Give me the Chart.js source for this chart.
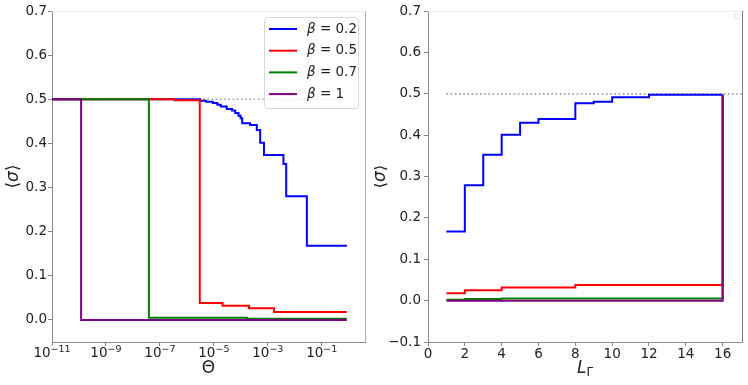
<!DOCTYPE html>
<html>
<head>
<meta charset="utf-8">
<script src="https://cdn.jsdelivr.net/npm/chart.js@4"></script>
<style>
html,body{margin:0;padding:0;background:#fff;}
#wrap{position:relative;width:748px;height:385px;overflow:hidden;}
.panel{position:absolute;top:0;width:374px;height:385px;}
</style>
</head>
<body>
<div id="wrap">
  <div class="panel" style="left:0"><canvas id="c1" width="374" height="385"></canvas></div>
  <div class="panel" style="left:374px"><canvas id="c2" width="374" height="385"></canvas></div>
</div>
<script>
// ---------------- DATA ----------------
const seriesLabels = ['β = 0.2', 'β = 0.5', 'β = 0.7', 'β = 1'];

// Left panel: <sigma> vs Theta (step functions, value holds from x[i] to x[i+1])
const thetaB02 = [1e-11, 3.1e-6, 5.1e-6, 9.1e-6, 1.35e-5, 1.8e-5, 3.0e-5, 4.7e-5, 6.2e-5, 8.2e-5, 9.8e-5, 1.12e-4, 2.2e-4, 3.9e-4, 5.2e-4, 7.2e-4, 3.8e-3, 4.8e-3, 2.8e-2, 0.85];
const sigmaB02 = [0.5, 0.4966, 0.4943, 0.4913, 0.4875, 0.4836, 0.4777, 0.4745, 0.4686, 0.4624, 0.4572, 0.4458, 0.4419, 0.4305, 0.4016, 0.3736, 0.3531, 0.2802, 0.168, 0.168];
const thetaB05 = [1e-11, 3.5e-7, 3.0e-6, 2.1e-5, 2.0e-4, 1.7e-3, 0.85];
const sigmaB05 = [0.5, 0.498, 0.0385, 0.032, 0.0265, 0.018, 0.018];
const thetaB07 = [1e-11, 3.9e-8, 1.7e-4, 0.85];
const sigmaB07 = [0.5, 0.005, 0.0025, 0.0025];
const thetaB1 = [1e-11, 1.2e-10, 0.85];
const sigmaB1 = [0.5, 0, 0];
const thetaRef = [1e-11, 0.85];
const sigmaRefLeft = [0.5, 0.5];

// Right panel: <sigma> vs L_Gamma
const lGamma = [1, 2, 3, 4, 5, 6, 7, 8, 9, 10, 11, 12, 13, 14, 15, 16];
const sigmaLB02 = [0.167, 0.279, 0.353, 0.401, 0.430, 0.439, 0.439, 0.477, 0.481, 0.492, 0.492, 0.4976, 0.4976, 0.4976, 0.4976, 0.4976];
const sigmaLB05 = [0.0178, 0.025, 0.025, 0.0316, 0.0316, 0.0316, 0.0316, 0.038, 0.038, 0.038, 0.038, 0.038, 0.038, 0.038, 0.038, 0.4976];
const sigmaLB07 = [0.002, 0.004, 0.004, 0.005, 0.005, 0.005, 0.005, 0.005, 0.005, 0.005, 0.005, 0.005, 0.005, 0.005, 0.005, 0.4976];
const sigmaLB1  = [0, 0, 0, 0, 0, 0, 0, 0, 0, 0, 0, 0, 0, 0, 0, 0.4976];
const lRef = [1, 17.05];
const sigmaRefRight = [0.5, 0.5];

// Tick labels
const thetaTicks = [1e-11, 1e-9, 1e-7, 1e-5, 1e-3, 1e-1];
const sigmaTicksLeft = [0, 0.1, 0.2, 0.3, 0.4, 0.5, 0.6, 0.7];
const sigmaTicksRight = [-0.1, 0, 0.1, 0.2, 0.3, 0.4, 0.5, 0.6, 0.7];
const lTicks = [0, 2, 4, 6, 8, 10, 12, 14, 16];

// ---------------- STYLE ----------------
const FONT = 'DejaVu Sans';
const COLORS = ['#0000ff', '#ff0000', '#008000', '#800080'];
const TICK_COLOR = '#222';
const AXIS_COLOR = '#8a8a8a';

const pts = (xs, ys) => xs.map((x, i) => ({x: x, y: ys[i]}));

function stepSet(label, xs, ys, idx) {
  return {
    label: label, data: pts(xs, ys), borderColor: COLORS[idx], backgroundColor: COLORS[idx],
    borderWidth: 2, pointRadius: 0, stepped: 'before', fill: false, tension: 0,
    order: 4 - idx, legendEntry: true
  };
}
function refSet(xs, ys) {
  return {
    label: 'ref', data: pts(xs, ys), borderColor: '#a0a0a0', borderWidth: 1.6,
    borderDash: [1.6, 2.6], pointRadius: 0, fill: false, order: 10, legendEntry: false
  };
}

function powParts(v) {
  const e = Math.round(Math.log10(v));
  return {base: '10', exp: (e < 0 ? '−' : '') + String(Math.abs(e))};
}
function fmtDec(v) {
  const s = Math.abs(v).toFixed(1);
  return (v < -1e-9 ? '−' : '') + s;
}

// ---------------- PLUGINS ----------------
function roundRect(ctx, x, y, w, h, r) {
  ctx.beginPath();
  ctx.moveTo(x + r, y);
  ctx.lineTo(x + w - r, y); ctx.quadraticCurveTo(x + w, y, x + w, y + r);
  ctx.lineTo(x + w, y + h - r); ctx.quadraticCurveTo(x + w, y + h, x + w - r, y + h);
  ctx.lineTo(x + r, y + h); ctx.quadraticCurveTo(x, y + h, x, y + h - r);
  ctx.lineTo(x, y + r); ctx.quadraticCurveTo(x, y, x + r, y);
  ctx.closePath();
}

const spines = {
  id: 'spines',
  afterDatasetsDraw(chart, args, o) {
    const ctx = chart.ctx, a = chart.chartArea;
    ctx.save();
    ctx.lineWidth = 1;
    ctx.strokeStyle = o.topColor;
    ctx.beginPath(); ctx.moveTo(a.left, Math.round(a.top) + 0.5); ctx.lineTo(a.right, Math.round(a.top) + 0.5); ctx.stroke();
    ctx.strokeStyle = o.rightColor;
    ctx.beginPath(); ctx.moveTo(Math.round(a.right) + 0.5, a.top); ctx.lineTo(Math.round(a.right) + 0.5, a.bottom); ctx.stroke();
    ctx.restore();
  }
};

// draws "10" with a raised exponent under each tick of a log x axis
const powTicks = {
  id: 'powTicks',
  afterDraw(chart, args, o) {
    if (!o.show) return;
    const ctx = chart.ctx, sc = chart.scales.x;
    ctx.save();
    ctx.fillStyle = TICK_COLOR;
    ctx.textBaseline = 'alphabetic';
    sc.ticks.forEach(t => {
      const p = powParts(t.value);
      const px = sc.getPixelForValue(t.value);
      ctx.font = o.size + 'px "' + FONT + '"';
      const wb = ctx.measureText(p.base).width;
      ctx.font = o.supSize + 'px "' + FONT + '"';
      const we = ctx.measureText(p.exp).width;
      const x0 = px - (wb + we) / 2;
      ctx.font = o.size + 'px "' + FONT + '"';
      ctx.fillText(p.base, x0, o.baseline);
      ctx.font = o.supSize + 'px "' + FONT + '"';
      ctx.fillText(p.exp, x0 + wb, o.baseline - o.raise);
    });
    ctx.restore();
  }
};

const boxLegend = {
  id: 'boxLegend',
  afterDraw(chart, args, o) {
    if (!o.show) return;
    const ctx = chart.ctx;
    ctx.save();
    roundRect(ctx, o.x + 0.5, o.y + 0.5, o.w, o.h, o.r);
    ctx.fillStyle = 'rgba(255,255,255,0.8)';
    ctx.fill();
    ctx.strokeStyle = '#d8d8d8';
    ctx.lineWidth = 1;
    ctx.stroke();
    const sets = chart.data.datasets.filter(d => d.legendEntry);
    sets.forEach((d, i) => {
      const y = o.firstY + i * o.rowH;
      ctx.strokeStyle = d.borderColor;
      ctx.lineWidth = 2;
      ctx.beginPath(); ctx.moveTo(o.lineX0, y); ctx.lineTo(o.lineX1, y); ctx.stroke();
      ctx.fillStyle = TICK_COLOR;
      ctx.textBaseline = 'middle';
      const first = d.label.charAt(0), rest = d.label.slice(1);
      ctx.font = 'italic ' + o.size + 'px "' + FONT + '"';
      ctx.fillText(first, o.textX, y);
      const w = ctx.measureText(first).width;
      ctx.font = 'normal ' + o.size + 'px "' + FONT + '"';
      ctx.fillText(rest, o.textX + w, y);
    });
    ctx.restore();
  }
};

const richTitles = {
  id: 'richTitles',
  afterDraw(chart, args, o) {
    const ctx = chart.ctx, a = chart.chartArea;
    (o.items || []).forEach(it => {
      ctx.save();
      const cx = (it.x !== undefined && it.x !== null) ? it.x : (a.left + a.right) / 2;
      const cy = (it.y !== undefined && it.y !== null) ? it.y : (a.top + a.bottom) / 2;
      ctx.translate(cx, cy);
      if (it.rotate) ctx.rotate(it.rotate);
      const runs = it.runs;
      const widths = [];
      let total = 0;
      for (let i = 0; i < runs.length; i++) {
        const r = runs[i];
        ctx.font = (r.style || 'normal') + ' ' + r.size + 'px "' + FONT + '"';
        const w = ctx.measureText(r.text).width;
        widths.push(w); total += w;
      }
      let x = -total / 2;
      ctx.textBaseline = 'middle';
      ctx.fillStyle = TICK_COLOR;
      for (let i = 0; i < runs.length; i++) {
        const r = runs[i];
        ctx.font = (r.style || 'normal') + ' ' + r.size + 'px "' + FONT + '"';
        ctx.fillText(r.text, x, r.dy || 0);
        x += widths[i];
      }
      ctx.restore();
    });
  }
};

function axisCommon() {
  return {
    grid: {drawOnChartArea: false, drawTicks: true, tickLength: 4, color: AXIS_COLOR, lineWidth: 1},
    border: {display: true, color: AXIS_COLOR, width: 1}
  };
}

// ---------------- LEFT CHART ----------------
new Chart(document.getElementById('c1'), {
  type: 'line',
  data: {
    datasets: [
      stepSet(seriesLabels[0], thetaB02, sigmaB02, 0),
      stepSet(seriesLabels[1], thetaB05, sigmaB05, 1),
      stepSet(seriesLabels[2], thetaB07, sigmaB07, 2),
      stepSet(seriesLabels[3], thetaB1, sigmaB1, 3),
      refSet(thetaRef, sigmaRefLeft)
    ]
  },
  options: {
    responsive: false, animation: false, devicePixelRatio: 1,
    layout: {padding: {top: 11, right: 9, left: 0, bottom: 0}},
    plugins: {
      legend: {display: false}, tooltip: {enabled: false},
      spines: {topColor: '#eeeeee', rightColor: '#b0b0b0'},
      powTicks: {show: true, size: 13.5, supSize: 9.5, baseline: 357, raise: 5.5},
      boxLegend: {show: true, x: 264, y: 17, w: 94, h: 91, r: 3, firstY: 29, rowH: 21.7, lineX0: 269, lineX1: 297, textX: 307, size: 13.5},
      richTitles: {items: [
        {x: 14, rotate: -Math.PI / 2, runs: [{text: '⟨', size: 17}, {text: 'σ', size: 17, style: 'italic'}, {text: '⟩', size: 17}]},
        {y: 369, runs: [{text: 'Θ', size: 17}]}
      ]}
    },
    scales: {
      x: Object.assign(axisCommon(), {
        type: 'logarithmic', min: 1e-11, max: 4.0,
        afterBuildTicks: s => { s.ticks = thetaTicks.map(v => ({value: v})); },
        afterFit: s => { s.height = 43; },
        ticks: {display: false, autoSkip: false},
        title: {display: false}
      }),
      y: Object.assign(axisCommon(), {
        type: 'linear', min: -0.05, max: 0.7,
        afterBuildTicks: s => { s.ticks = sigmaTicksLeft.map(v => ({value: v})); },
        afterFit: s => { s.width = 52; },
        ticks: {callback: v => fmtDec(v), font: {family: FONT, size: 13.5}, color: TICK_COLOR, padding: 1, autoSkip: false},
        title: {display: false}
      })
    }
  },
  plugins: [spines, powTicks, boxLegend, richTitles]
});

// ---------------- RIGHT CHART ----------------
new Chart(document.getElementById('c2'), {
  type: 'line',
  data: {
    datasets: [
      stepSet(seriesLabels[0], lGamma, sigmaLB02, 0),
      stepSet(seriesLabels[1], lGamma, sigmaLB05, 1),
      stepSet(seriesLabels[2], lGamma, sigmaLB07, 2),
      stepSet(seriesLabels[3], lGamma, sigmaLB1, 3),
      refSet(lRef, sigmaRefRight)
    ]
  },
  options: {
    responsive: false, animation: false, devicePixelRatio: 1,
    layout: {padding: {top: 11, right: 6, left: 0, bottom: 0}},
    plugins: {
      legend: {display: false}, tooltip: {enabled: false},
      spines: {topColor: '#eeeeee', rightColor: '#808080'},
      boxLegend: {show: false},
      richTitles: {items: [
        {x: 7, rotate: -Math.PI / 2, runs: [{text: '⟨', size: 17}, {text: 'σ', size: 17, style: 'italic'}, {text: '⟩', size: 17}]},
        {y: 369, runs: [{text: 'L', size: 17, style: 'italic'}, {text: 'Γ', size: 12, dy: 4}]}
      ]}
    },
    scales: {
      x: Object.assign(axisCommon(), {
        type: 'linear', min: 0, max: 17.05,
        afterBuildTicks: s => { s.ticks = lTicks.map(v => ({value: v})); },
        afterFit: s => { s.height = 43; },
        ticks: {callback: v => String(v), font: {family: FONT, size: 13.5}, color: TICK_COLOR, padding: 0, maxRotation: 0, autoSkip: false},
        title: {display: false}
      }),
      y: Object.assign(axisCommon(), {
        type: 'linear', min: -0.1, max: 0.7,
        afterBuildTicks: s => { s.ticks = sigmaTicksRight.map(v => ({value: v})); },
        afterFit: s => { s.width = 54; },
        ticks: {callback: v => fmtDec(v), font: {family: FONT, size: 13.5}, color: TICK_COLOR, padding: 3, autoSkip: false},
        title: {display: false}
      })
    }
  },
  plugins: [spines, richTitles, {
    id: 'emptyLegend',
    afterDraw(chart) {
      const ctx = chart.ctx;
      ctx.save();
      roundRect(ctx, 360.5, 13.5, 5, 5, 2);
      ctx.strokeStyle = '#dddddd';
      ctx.lineWidth = 1;
      ctx.stroke();
      ctx.restore();
    }
  }]
});
</script>
</body>
</html>
